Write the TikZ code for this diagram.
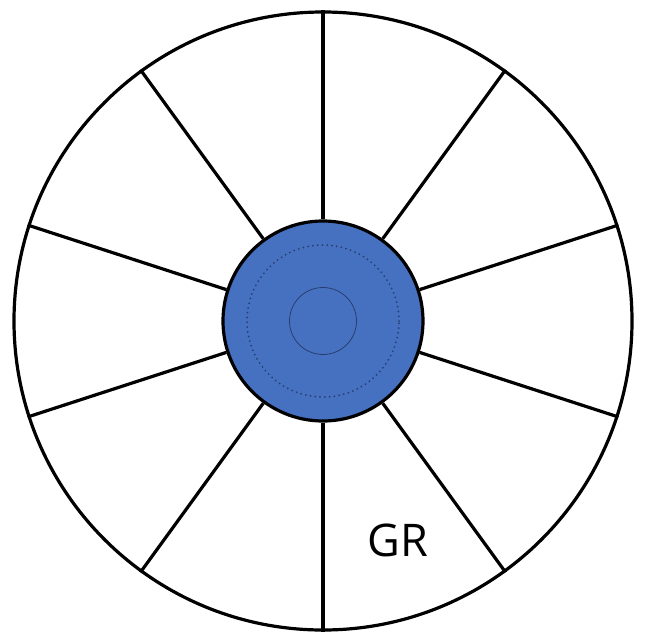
\documentclass[tikz,border=0pt]{standalone}
\usepackage{fontspec}
\setmainfont{Open Sans}
\usepackage{xcolor}
\usepackage{tikz}
\definecolor{hubblue}{RGB}{70,113,193}
\definecolor{hubline}{RGB}{40,62,110}

\begin{document}
\begin{tikzpicture}[x=1pt,y=1pt,
  rim/.style={circle,draw,line width=3.2pt,minimum size=618pt,inner sep=0pt},
  hub/.style={circle,draw,line width=3.2pt,fill=hubblue,minimum size=200pt,inner sep=0pt},
  spoke/.style={line width=3.2pt}]
\useasboundingbox (-323,-312) rectangle (324,321);
\node[rim] (rim) at (0,0) {};
\node[hub] (hub) at (0,0) {};
\node[circle,draw=hubline,line width=2pt,line cap=round,dash pattern=on 0pt off 4.8pt,minimum size=152pt,inner sep=0pt] (ring) at (0,0) {};
\node[circle,draw=hubline,line width=0.8pt,minimum size=67pt,inner sep=0pt] (core) at (0,0) {};
\foreach \a in {90,126,...,414}{\draw[spoke] (hub.\a) -- (rim.\a);}
\node[font=\fontsize{45}{54}\selectfont] (gr) at (75,-219) {GR};
\end{tikzpicture}
\end{document}
